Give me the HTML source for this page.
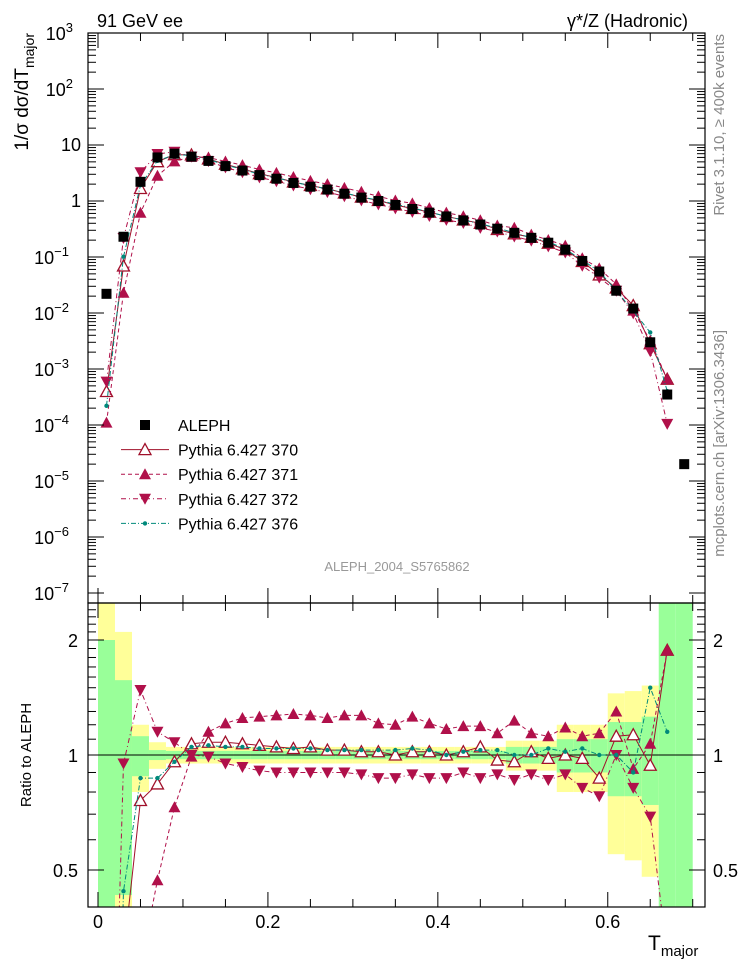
<!DOCTYPE html>
<html><head><meta charset="utf-8"><style>
html,body{margin:0;background:#fff;overflow:hidden;width:746px;height:972px}
svg{display:block;font-family:"Liberation Sans",sans-serif;overflow:hidden}
</style></head><body>
<svg id="c" width="746" height="972" viewBox="0 0 746 972"></svg>
<script>
const bins=[0.01,0.03,0.05,0.07,0.09,0.11,0.13,0.15,0.17,0.19,0.21,0.23,0.25,0.27,0.29,0.31,0.33,0.35,0.37,0.39,0.41,0.43,0.45,0.47,0.49,0.51,0.53,0.55,0.57,0.59,0.61,0.63,0.65,0.67,0.69];
const aleph=[0.022,0.23,2.2,6,7,6.2,5.2,4.2,3.5,2.9,2.5,2.1,1.8,1.6,1.35,1.15,1.0,0.85,0.72,0.62,0.53,0.45,0.38,0.32,0.27,0.22,0.18,0.135,0.085,0.055,0.025,0.012,0.003,0.00035,0.00002];
const statErr=[1.0,0.57,0.12,0.03,0.025,0.025,0.025,0.025,0.025,0.025,0.025,0.025,0.025,0.025,0.025,0.025,0.025,0.025,0.025,0.025,0.025,0.025,0.025,0.025,0.05,0.05,0.05,0.1,0.1,0.1,0.22,0.22,0.26,2,2];
const totErr=[3,1.1,0.2,0.08,0.05,0.05,0.05,0.05,0.05,0.05,0.05,0.05,0.05,0.05,0.05,0.05,0.05,0.05,0.05,0.05,0.05,0.05,0.05,0.05,0.09,0.09,0.09,0.2,0.2,0.2,0.45,0.47,0.52,0,0];
const r370=[0.018,0.3,0.76,0.84,0.96,1.07,1.08,1.08,1.07,1.06,1.05,1.04,1.05,1.03,1.03,1.02,1.02,1.0,1.02,1.02,1.0,1.02,1.05,0.97,0.96,1.02,0.98,1.0,0.98,0.87,1.12,1.13,0.94,1.88,null];
const r371=[0.005,0.1,0.28,0.47,0.73,0.99,1.15,1.21,1.25,1.26,1.27,1.28,1.27,1.25,1.27,1.27,1.21,1.2,1.26,1.21,1.17,1.19,1.19,1.14,1.23,1.14,1.12,1.18,1.12,1.14,1.3,0.92,1.07,1.88,null];
const r372=[0.027,0.95,1.48,1.15,1.08,1.0,0.99,0.95,0.93,0.91,0.9,0.9,0.9,0.9,0.9,0.89,0.87,0.87,0.89,0.87,0.87,0.9,0.87,0.89,0.86,0.89,0.86,0.89,0.82,0.78,1.0,0.82,0.69,0.3,null];
const r376=[0.01,0.44,0.87,0.87,0.96,1.05,1.06,1.05,1.05,1.04,1.04,1.04,1.04,1.03,1.03,1.03,1.03,1.03,1.04,1.03,1.0,1.02,1.03,1.03,1.0,1.0,1.04,1.02,1.04,1.0,1.0,0.9,1.5,1.15,null];
const xTicks=[0,0.2,0.4,0.6];
const yMainTicks=[3,2,1,0,-1,-2,-3,-4,-5,-6,-7];
const yRatioTicks=[0.5,1,2];

const NS="http://www.w3.org/2000/svg",svg=document.getElementById('c');
const L=88,R=705,T=33,MB=603,RB=907;
const X=v=>98+v*849.6;
const Y=v=>201-56*Math.log10(v);
const YR=r=>755-115*Math.log2(r);
function el(t,a,p){const e=document.createElementNS(NS,t);for(const k in a)e.setAttribute(k,a[k]);(p||svg).appendChild(e);return e;}
function txt(s,a,p){const e=el('text',a,p);e.textContent=s;return e;}
const RED="#a0102a",MAG="#b0104a",TEAL="#00897b";
const clipM=el('clipPath',{id:'cm'});el('rect',{x:L,y:T,width:R-L,height:MB-T},clipM);
const clipR=el('clipPath',{id:'cr'});el('rect',{x:L,y:MB,width:R-L,height:RB-MB},clipR);

const bandG=el('g',{'clip-path':'url(#cr)'});


bins.forEach((b,i)=>{
 const x0=X(b-0.01),w=X(b+0.01)-x0;
 const te=totErr[i],se=statErr[i];
 if(te>0){const y1=YR(1+te),y2=YR(Math.max(1-te,0.01));
  const r=el('rect',{x:x0,y:y1,width:w,height:y2-y1,fill:'#ffff99'},bandG);
  }
 const y1=YR(1+se),y2=YR(Math.max(1-se,0.01));
 const g=el('rect',{x:x0,y:y1,width:w,height:y2-y1,fill:'#99ff99'},bandG);
 
});
el('line',{x1:L,x2:R,y1:YR(1),y2:YR(1),stroke:'#000','stroke-width':1});

function marker(kind,x,y,col,p){
 let m;
 if(kind==='sq')m=el('rect',{x:x-5,y:y-5,width:10,height:10,fill:'#000'},p);
 else if(kind==='open')m=el('polygon',{points:`${x},${y-6} ${x-6},${y+5} ${x+6},${y+5}`,fill:'#fff',stroke:col,'stroke-width':1.3},p);
 else if(kind==='up')m=el('polygon',{points:`${x},${y-6} ${x-6},${y+5} ${x+6},${y+5}`,fill:col},p);
 else if(kind==='down')m=el('polygon',{points:`${x},${y+6} ${x-6},${y-5} ${x+6},${y-5}`,fill:col},p);
 else m=el('circle',{cx:x,cy:y,r:2.2,fill:col},p);
 return m;
}
const series=[
 {name:'Pythia 6.427 370',r:r370,col:RED,dash:'',kind:'open',key:'370'},
 {name:'Pythia 6.427 371',r:r371,col:MAG,dash:'4,3',kind:'up',key:'371'},
 {name:'Pythia 6.427 372',r:r372,col:MAG,dash:'5,3,1,3',kind:'down',key:'372'},
 {name:'Pythia 6.427 376',r:r376,col:TEAL,dash:'5,2,1,2',kind:'dot',key:'376'}];

const gm=el('g',{'clip-path':'url(#cm)'});
series.forEach(s=>{
 const g=el('g',{},gm);
 
 
 const pts=[];bins.forEach((b,i)=>{if(s.r[i]!=null)pts.push([X(b),Y(aleph[i]*s.r[i])]);});
 el('polyline',{points:pts.map(p=>p.join(',')).join(' '),fill:'none',stroke:s.col,'stroke-width':1,'stroke-dasharray':s.dash},g);
 pts.forEach(p=>{const m=marker(s.kind,p[0],p[1],s.col,g);
  });
});
const ga=el('g',{},gm);


bins.forEach((b,i)=>{const m=marker('sq',X(b),Y(aleph[i]),'#000',ga);
 });

const gr=el('g',{'clip-path':'url(#cr)'});
series.forEach(s=>{
 const g=el('g',{},gr);
 
 
 const pts=[];bins.forEach((b,i)=>{if(s.r[i]!=null)pts.push([X(b),YR(s.r[i])]);});
 el('polyline',{points:pts.map(p=>p.join(',')).join(' '),fill:'none',stroke:s.col,'stroke-width':1,'stroke-dasharray':s.dash},g);
 pts.forEach(p=>{const m=marker(s.kind,p[0],p[1],s.col,g);
  });
});

el('rect',{x:L,y:T,width:R-L,height:MB-T,fill:'none',stroke:'#000','stroke-width':1.2});
el('rect',{x:L,y:MB,width:R-L,height:RB-MB,fill:'none',stroke:'#000','stroke-width':1.2});
for(let v=0;v<=0.7001;v+=0.05){const x=X(v),maj=Math.abs(v*10-Math.round(v*10))<1e-6&&Math.round(v*10)%2===0;const len=maj?15:8;
 [[T,1],[MB,-1],[MB,1],[RB,-1]].forEach(([y,d])=>el('line',{x1:x,x2:x,y1:y,y2:y+d*len,stroke:'#000'}));}
xTicks.forEach(v=>{const t=txt(String(v),{x:X(v),y:928,'font-size':18,'text-anchor':'middle'});
 });
yMainTicks.forEach(e=>{const y=Y(Math.pow(10,e));
 [[L,1],[R,-1]].forEach(([x,d])=>el('line',{x1:x,x2:x+d*16,y1:y,y2:y,stroke:'#000'}));
 if(e>-7)for(let k=2;k<10;k++){const yy=Y(k*Math.pow(10,e-1));
  [[L,1],[R,-1]].forEach(([x,d])=>el('line',{x1:x,x2:x+d*8,y1:yy,y2:yy,stroke:'#000'}));}
 const lab=e===0?'1':e===1?'10':null;
 let t;
 if(lab)t=txt(lab,{x:81,y:y+6,'font-size':18,'text-anchor':'end'});
 else{t=txt('10',{x:e<0?69:73,y:y+7,'font-size':18,'text-anchor':'end'});
  const s=el('tspan',{dy:-8,'font-size':13},t);s.textContent=String(e).replace('-','−');}
 
});
for(let r=0.4;r<=2.51;r+=0.1){const y=YR(r);if(y<MB||y>RB)continue;
 const maj=yRatioTicks.some(v=>Math.abs(v-r)<1e-6);const len=maj?16:8;
 [[L,1],[R,-1]].forEach(([x,d])=>el('line',{x1:x,x2:x+d*len,y1:y,y2:y,stroke:'#000'}));}
yRatioTicks.forEach(v=>{[[78,'end'],[713,'start']].forEach(([x,a])=>{
 const t=txt(String(v),{x:x,y:YR(v)+7,'font-size':18,'text-anchor':a});
 });});

let t=txt('91 GeV ee',{x:97,y:27,'font-size':18});
t=txt('γ*/Z (Hadronic)',{x:688,y:27,'font-size':18,'text-anchor':'end'});
t=txt('ALEPH_2004_S5765862',{x:397,y:571,'font-size':13,fill:'#999','text-anchor':'middle'});
t=txt('Rivet 3.1.10, ≥ 400k events',{x:0,y:0,'font-size':15,fill:'#888','text-anchor':'end',transform:'translate(724,34) rotate(-90)'});
t=txt('mcplots.cern.ch [arXiv:1306.3436]',{x:0,y:0,'font-size':15,fill:'#888','text-anchor':'end',transform:'translate(724,330) rotate(-90)'});
t=txt('1/σ  dσ/dT',{x:0,y:0,'font-size':19,'text-anchor':'end',transform:'translate(28,33) rotate(-90)'});
const sub=el('tspan',{dy:6,'font-size':14},t);sub.textContent='major';

t=txt('Ratio to ALEPH',{x:0,y:0,'font-size':15,'text-anchor':'middle',transform:'translate(31,755) rotate(-90)'});
t=txt('T',{x:648,y:950,'font-size':21});const s2=el('tspan',{dy:6,'font-size':15},t);s2.textContent='major';


const lg=el('g',{});
const rows=[{name:'ALEPH',kind:'sq',col:'#000',dash:null,key:'aleph'}].concat(series);
rows.forEach((s,i)=>{const y=425+i*24.6;const g=el('g',{},lg);
 
 if(s.dash!=null)el('line',{x1:121,x2:169,y1:y,y2:y,stroke:s.col,'stroke-dasharray':s.dash},g);
 marker(s.kind,145,y,s.col,g);
 txt(s.name,{x:178,y:y+6,'font-size':16},g);});
</script>
</body></html>
